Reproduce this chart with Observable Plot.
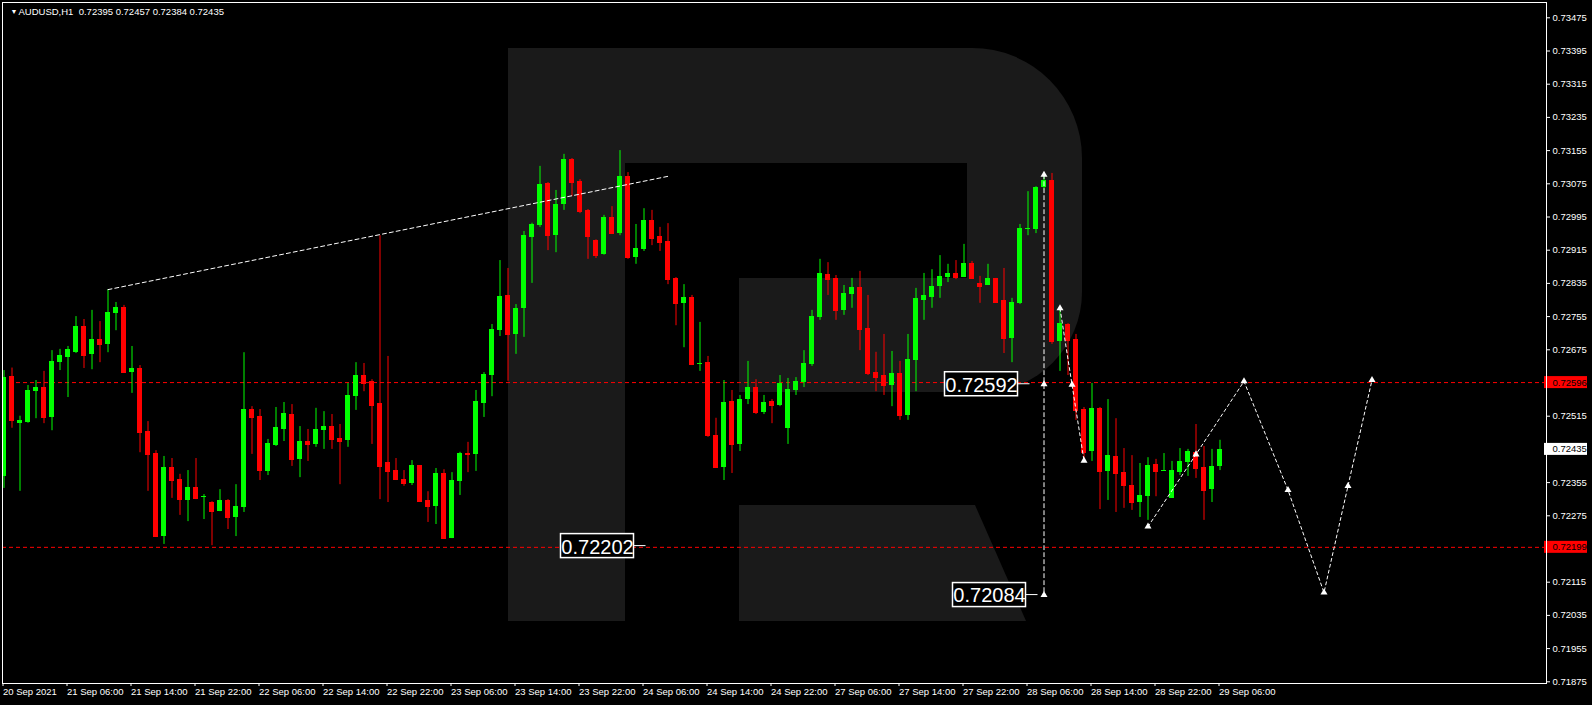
<!DOCTYPE html>
<html><head><meta charset="utf-8">
<script src="https://cdn.jsdelivr.net/npm/d3@7"></script>
<script src="https://cdn.jsdelivr.net/npm/@observablehq/plot@0.6"></script>
<style>
html,body{margin:0;padding:0;background:#000;}
#wrap{position:relative;width:1592px;height:705px;background:#000;overflow:hidden;}
.logo{position:absolute;background:#1a1a1a;}
.hole{position:absolute;background:#000;}
#chart{position:absolute;left:0;top:0;}
</style></head><body>
<div id="wrap">
 <div class="logo" style="left:508px;top:48px;width:574px;height:344px;border-radius:0 110px 100px 0;"></div>
 <div class="hole" style="left:625px;top:163px;width:342px;height:115px;"></div>
 <div class="hole" style="left:625px;top:163px;width:114px;height:229px;"></div>
 <div class="logo" style="left:508px;top:48px;width:117px;height:573px;"></div>
 <div class="logo" style="left:739px;top:505px;width:287px;height:116px;clip-path:polygon(0 0, 236px 0, 287px 116px, 0 116px);"></div>
 <div id="chart"></div>
</div>
<script>
// ---- data (AUDUSD H1, bar 0 = 20 Sep 2021 22:00) ----
const open = [0.72370,0.72610,0.72497,0.72500,0.72574,0.72584,0.72512,0.72644,0.72656,0.72668,
0.72731,0.72663,0.72700,0.72688,0.72762,0.72777,0.72620,0.72630,0.72478,0.72425,
0.72225,0.72391,0.72362,0.72312,0.72343,0.72319,0.72307,0.72285,0.72312,0.72271,
0.72295,0.72531,0.72514,0.72382,0.72444,0.72483,0.72519,0.72411,0.72454,0.72447,
0.72481,0.72490,0.72461,0.72456,0.72562,0.72613,0.72599,0.72546,0.72403,0.72384,
0.72362,0.72353,0.72396,0.72312,0.72297,0.72377,0.72220,0.72358,0.72425,0.72423,
0.72546,0.72613,0.72721,0.72806,0.72712,0.72774,0.72946,0.72974,0.73076,0.72950,
0.73025,0.73134,0.73080,0.73011,0.72938,0.72905,0.72994,0.72955,0.73093,0.72897,
0.72917,0.72987,0.72948,0.72936,0.72847,0.72787,0.72801,0.72640,0.72644,0.72469,
0.72391,0.72550,0.72447,0.72555,0.72584,0.72524,0.72550,0.72541,0.72485,0.72577,
0.72596,0.72640,0.72753,0.72856,0.72847,0.72770,0.72808,0.72825,0.72726,0.72620,
0.72613,0.72589,0.72618,0.72517,0.72649,0.72794,0.72801,0.72828,0.72849,0.72859,
0.72849,0.72883,0.72835,0.72830,0.72847,0.72794,0.72702,0.72787,0.72965,0.72965,
0.73066,0.73083,0.72695,0.72736,0.72700,0.72531,0.72430,0.72533,0.72382,0.72418,
0.72379,0.72348,0.72307,0.72321,0.72399,0.72382,0.72317,0.72379,0.72403,0.72427,
0.72391,0.72338,0.72395];
const high = [0.72625,0.72631,0.72515,0.72589,0.72601,0.72623,0.72673,0.72676,0.72683,0.72755,
0.72748,0.72770,0.72743,0.72820,0.72789,0.72782,0.72683,0.72637,0.72502,0.72432,
0.72418,0.72413,0.72375,0.72384,0.72413,0.72326,0.72309,0.72338,0.72314,0.72350,
0.72668,0.72538,0.72531,0.72459,0.72536,0.72548,0.72543,0.72490,0.72483,0.72534,
0.72526,0.72519,0.72495,0.72594,0.72644,0.72642,0.72603,0.72950,0.72659,0.72413,
0.72384,0.72408,0.72396,0.72333,0.72389,0.72386,0.72379,0.72428,0.72452,0.72577,
0.72620,0.72736,0.72890,0.72871,0.72784,0.72960,0.72980,0.73117,0.73078,0.73059,
0.73146,0.73136,0.73085,0.73013,0.72940,0.72999,0.73020,0.73155,0.73102,0.72977,
0.73015,0.73011,0.72970,0.72979,0.72849,0.72832,0.72806,0.72741,0.72659,0.72510,
0.72601,0.72577,0.72565,0.72647,0.72603,0.72565,0.72555,0.72613,0.72606,0.72608,
0.72673,0.72770,0.72893,0.72885,0.72854,0.72830,0.72847,0.72864,0.72806,0.72669,
0.72712,0.72671,0.72647,0.72712,0.72823,0.72859,0.72868,0.72902,0.72881,0.72890,
0.72929,0.72888,0.72852,0.72881,0.72847,0.72871,0.72799,0.72977,0.73056,0.73068,
0.73097,0.73100,0.72774,0.72738,0.72712,0.72536,0.72594,0.72536,0.72555,0.72509,
0.72437,0.72420,0.72401,0.72415,0.72411,0.72425,0.72406,0.72437,0.72435,0.72495,
0.72442,0.72435,0.72457];
const low = [0.72341,0.72486,0.72334,0.72498,0.72509,0.72497,0.72480,0.72625,0.72560,0.72666,
0.72630,0.72627,0.72644,0.72668,0.72721,0.72620,0.72570,0.72427,0.72334,0.72223,
0.72206,0.72317,0.72276,0.72261,0.72314,0.72266,0.72203,0.72285,0.72242,0.72225,
0.72283,0.72423,0.72360,0.72372,0.72442,0.72454,0.72394,0.72367,0.72406,0.72440,
0.72435,0.72435,0.72350,0.72440,0.72529,0.72574,0.72447,0.72314,0.72307,0.72360,
0.72346,0.72348,0.72309,0.72259,0.72254,0.72218,0.72220,0.72324,0.72379,0.72382,
0.72512,0.72562,0.72707,0.72599,0.72664,0.72705,0.72835,0.72970,0.72914,0.72909,
0.73011,0.73044,0.73003,0.72893,0.72895,0.72903,0.72953,0.72950,0.72893,0.72881,
0.72912,0.72926,0.72912,0.72832,0.72733,0.72680,0.72637,0.72623,0.72464,0.72391,
0.72360,0.72377,0.72430,0.72543,0.72519,0.72519,0.72497,0.72538,0.72447,0.72565,
0.72584,0.72635,0.72746,0.72806,0.72746,0.72758,0.72775,0.72673,0.72613,0.72574,
0.72565,0.72538,0.72505,0.72505,0.72574,0.72746,0.72775,0.72799,0.72837,0.72844,
0.72849,0.72847,0.72787,0.72830,0.72787,0.72666,0.72644,0.72784,0.72950,0.72955,
0.73060,0.72688,0.72623,0.72613,0.72505,0.72413,0.72406,0.72290,0.72312,0.72283,
0.72293,0.72288,0.72271,0.72264,0.72321,0.72382,0.72317,0.72372,0.72370,0.72365,
0.72264,0.72307,0.72384];
const close = [0.72609,0.72504,0.72504,0.72577,0.72584,0.72512,0.72647,0.72661,0.72676,0.72731,
0.72661,0.72700,0.72688,0.72765,0.72777,0.72620,0.72630,0.72476,0.72423,0.72225,
0.72391,0.72360,0.72314,0.72343,0.72317,0.72322,0.72285,0.72312,0.72271,0.72297,
0.72531,0.72512,0.72384,0.72449,0.72488,0.72522,0.72411,0.72454,0.72447,0.72483,
0.72490,0.72459,0.72454,0.72565,0.72613,0.72594,0.72541,0.72394,0.72382,0.72362,
0.72353,0.72396,0.72309,0.72297,0.72377,0.72220,0.72360,0.72425,0.72423,0.72550,
0.72615,0.72724,0.72803,0.72712,0.72774,0.72950,0.72977,0.73073,0.72950,0.73025,
0.73134,0.73078,0.73008,0.72948,0.72902,0.72994,0.72955,0.73093,0.72897,0.72919,
0.72987,0.72943,0.72934,0.72844,0.72787,0.72801,0.72640,0.72642,0.72469,0.72391,
0.72548,0.72447,0.72555,0.72584,0.72524,0.72548,0.72541,0.72594,0.72579,0.72599,
0.72642,0.72755,0.72859,0.72844,0.72770,0.72811,0.72825,0.72724,0.72618,0.72608,
0.72589,0.72618,0.72517,0.72652,0.72799,0.72806,0.72828,0.72852,0.72859,0.72849,
0.72883,0.72847,0.72828,0.72847,0.72789,0.72702,0.72789,0.72967,0.72967,0.73066,
0.73083,0.72695,0.72738,0.72697,0.72529,0.72427,0.72533,0.72382,0.72420,0.72377,
0.72348,0.72307,0.72324,0.72396,0.72382,0.72384,0.72384,0.72406,0.72430,0.72389,
0.72336,0.72394,0.72435];

const priceTicks = [0.73475,0.73395,0.73315,0.73235,0.73155,0.73075,0.72995,0.72915,0.72835,0.72755,
0.72675,0.72595,0.72515,0.72435,0.72355,0.72275,0.72195,0.72115,0.72035,0.71955,0.71875];
const timeTicks = [0,8,16,24,32,40,48,56,64,72,80,88,96,104,112,120,128,136,144,152];
const timeLabels = ["20 Sep 2021","21 Sep 06:00","21 Sep 14:00","21 Sep 22:00","22 Sep 06:00","22 Sep 14:00",
"22 Sep 22:00","23 Sep 06:00","23 Sep 14:00","23 Sep 22:00","24 Sep 06:00","24 Sep 14:00","24 Sep 22:00",
"27 Sep 06:00","27 Sep 14:00","27 Sep 22:00","28 Sep 06:00","28 Sep 14:00","28 Sep 22:00","29 Sep 06:00"];

const levelPrices = [0.72596, 0.72199];
const bidPrice = 0.72435;
const titleText = "AUDUSD,H1  0.72395 0.72457 0.72384 0.72435";

const trendBars = [13, 83];
const trendPrices = [0.72820, 0.73093];
const vertBar = 130;
const vertPrices = [0.73097, 0.72592, 0.72084];
const path1Bars = [132, 133.5, 135];
const path1Prices = [0.72775, 0.72591, 0.72408];
const path2Bars = [143, 149, 155, 160.5, 165, 168, 171];
const path2Prices = [0.72249, 0.72423, 0.72599, 0.72337, 0.72090, 0.72347, 0.72602];

const labelTexts = ["0.72592", "0.72202", "0.72084"];
const labelPrices = [0.72592, 0.72202, 0.72084];
const labelBars = [130, 82, 131];

// ---- build tables ----
const candles = open.map((o, i) => ({i, o, h: Math.max(high[i], o, close[i]), l: Math.min(low[i], o, close[i]), c: close[i]}));
const up = candles.filter(d => d.c >= d.o);
const down = candles.filter(d => d.c < d.o);
const trend = trendBars.map((b, k) => ({x: b, y: trendPrices[k]}));
const vert = vertPrices.map(p => ({x: vertBar, y: p}));
const path1 = path1Bars.map((b, k) => ({x: b, y: path1Prices[k]}));
const path2 = path2Bars.map((b, k) => ({x: b, y: path2Prices[k]}));
const markers = [...vert, ...path1, ...path2];
const labels = labelTexts.map((t, k) => ({t, p: labelPrices[k], b: labelBars[k]}));
const axisLabels = [
  {p: levelPrices[0], t: levelPrices[0].toFixed(5), bg: "#ff0000", fg: "#000"},
  {p: levelPrices[1], t: levelPrices[1].toFixed(5), bg: "#ff0000", fg: "#000"},
  {p: bidPrice, t: bidPrice.toFixed(5), bg: "#ffffff", fg: "#000"}
];

// ---- layout / scale ----
const W = 1592, H = 705, mL = 2, mR = 46, mT = 2, mB = 22;
const xDomain = [(mL - 3.5) / 8, (W - mR - 3.5) / 8];
const pxPerUnit = 41500;
const yDomain = [0.73475 - (H - mB - 17.3) / pxPerUnit, 0.73475 + (17.3 - mT) / pxPerUnit];
const GREEN = "#00ff00", RED = "#ff0000";
const hw = 0.3125;

const chart = Plot.plot({
  width: W, height: H,
  marginLeft: mL, marginRight: mR, marginTop: mT, marginBottom: mB,
  x: {type: "linear", domain: xDomain, axis: null},
  y: {type: "linear", domain: yDomain, axis: null},
  style: {background: "transparent", color: "#ffffff", fontFamily: "Liberation Sans", fontSize: "9.5px"},
  marks: [
    Plot.ruleY(levelPrices, {stroke: RED, strokeDasharray: "4,3", strokeWidth: 1}),
    // wicks
    Plot.ruleX(up, {x: "i", y1: "l", y2: "h", stroke: GREEN, clip: true}),
    Plot.ruleX(down, {x: "i", y1: "l", y2: "h", stroke: RED, clip: true}),
    // bodies
    Plot.rect(up, {x1: d => d.i - hw, x2: d => d.i + hw, y1: "o", y2: "c", fill: GREEN, clip: true, shapeRendering: "crispEdges"}),
    Plot.rect(down, {x1: d => d.i - hw, x2: d => d.i + hw, y1: "o", y2: "c", fill: RED, clip: true, shapeRendering: "crispEdges"}),
    Plot.ruleY(up, {x1: d => d.i - hw, x2: d => d.i + hw, y: "c", stroke: GREEN, clip: true, shapeRendering: "crispEdges"}),
    Plot.ruleY(down, {x1: d => d.i - hw, x2: d => d.i + hw, y: "c", stroke: RED, clip: true, shapeRendering: "crispEdges"}),
    // drawings
    Plot.line(trend, {x: "x", y: "y", stroke: "#fff", strokeWidth: 1, strokeDasharray: "4,3"}),
    Plot.line([vert[0], vert[2]], {x: "x", y: "y", stroke: "#fff", strokeWidth: 1, strokeDasharray: "4,3"}),
    Plot.line(path1, {x: "x", y: "y", stroke: "#fff", strokeWidth: 1, strokeDasharray: "3,3"}),
    Plot.line(path2, {x: "x", y: "y", stroke: "#fff", strokeWidth: 1, strokeDasharray: "3,3"}),
    Plot.dot(markers, {x: "x", y: "y", symbol: "triangle", r: 2.6, fill: "#fff", stroke: "none"}),
    // price label objects
    Plot.rect(labels, {x1: "b", x2: "b", y1: "p", y2: "p", insetLeft: -99, insetRight: 26, insetTop: -12, insetBottom: -12, fill: "#000", stroke: "#fff", strokeWidth: 1.5}),
    Plot.rect(labels, {x1: "b", x2: "b", y1: "p", y2: "p", insetLeft: -26, insetRight: 14, insetTop: -0.5, insetBottom: -0.5, fill: "#fff"}),
    Plot.text(labels, {x: "b", y: "p", text: "t", dx: -62.5, dy: 1, fill: "#fff", fontSize: 20, fontFamily: "Liberation Sans", textAnchor: "middle"}),
    // axes
    Plot.axisY(priceTicks, {anchor: "right", tickSize: 3, tickPadding: 3, tickFormat: d => d.toFixed(5), label: null, stroke: "#fff", fill: "#fff"}),
    Plot.axisX(timeTicks, {anchor: "bottom", tickSize: 3, tickPadding: 2, textAnchor: "start", dx: -1, tickFormat: d => timeLabels[timeTicks.indexOf(d)], label: null, stroke: "#fff", fill: "#fff"}),
    // axis price tags
    Plot.rect(axisLabels, {x1: () => xDomain[1], x2: () => xDomain[1], y1: "p", y2: "p", insetLeft: -2, insetRight: -41, insetTop: -6, insetBottom: -6, fill: "bg"}),
    Plot.text(axisLabels, {x: () => xDomain[1], y: "p", text: "t", dx: 6, textAnchor: "start", fill: "fg"}),
    Plot.frame({stroke: "#fff", strokeWidth: 1}),
    // title
    Plot.text(["\u25BC"], {frameAnchor: "top-left", dx: 8, dy: 9, fontSize: 7, fill: "#fff", lineAnchor: "middle"}),
    Plot.text([titleText], {frameAnchor: "top-left", dx: 16, dy: 9, textAnchor: "start", lineAnchor: "middle", fill: "#fff"})
  ]
});
document.getElementById("chart").appendChild(chart);
</script>
</body></html>
